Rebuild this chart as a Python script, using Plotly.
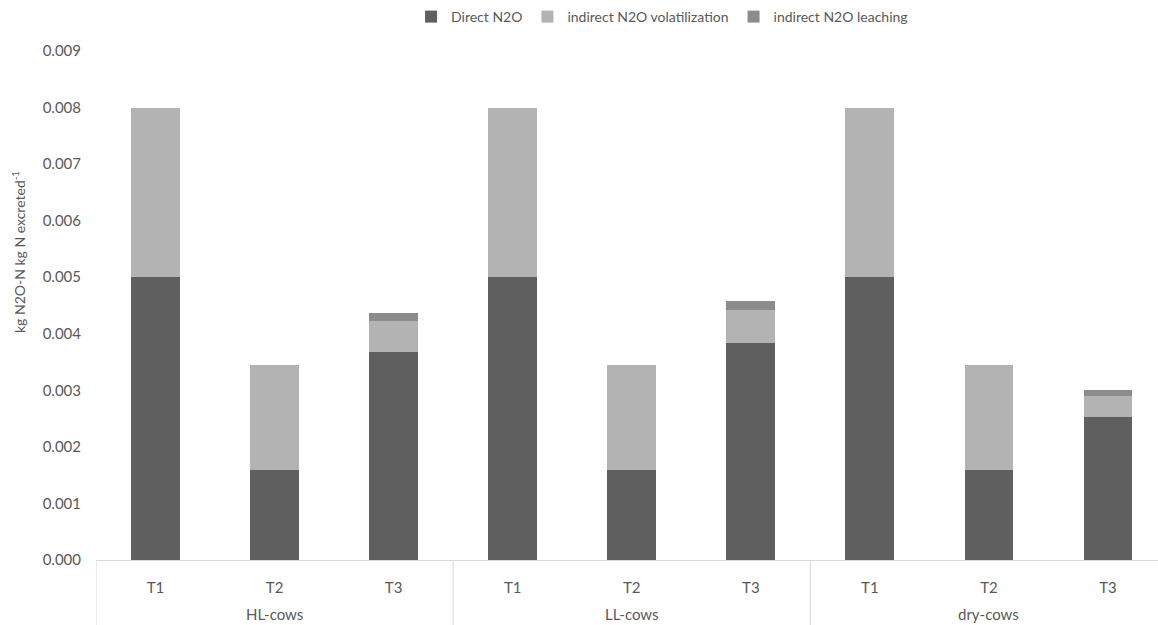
import plotly.graph_objects as go

# Housing groups and treatments
groups = ["HL-cows"] * 3 + ["LL-cows"] * 3 + ["dry-cows"] * 3
treatments = ["T1", "T2", "T3"] * 3

# kg N2O-N per kg N excreted, by emission pathway
direct_n2o = [0.0050, 0.0016, 0.00367, 0.0050, 0.0016, 0.00384, 0.0050, 0.0016, 0.00253]
indirect_volatilization = [0.0030, 0.00185, 0.00055, 0.0030, 0.00185, 0.00058, 0.0030, 0.00185, 0.00037]
indirect_leaching = [0.0, 0.0, 0.00015, 0.0, 0.0, 0.00016, 0.0, 0.0, 0.00011]

y_ticks = [0.000, 0.001, 0.002, 0.003, 0.004, 0.005, 0.006, 0.007, 0.008, 0.009]

font_family = "Lato, 'Open Sans', sans-serif"
text_color = "#595959"
rule_color = "#d9d9d9"

positions = list(range(len(treatments)))

fig = go.Figure()
series = [
    ("Direct N2O", direct_n2o, "#5f5f5f"),
    ("indirect N2O volatilization", indirect_volatilization, "#b3b3b3"),
    ("indirect N2O leaching", indirect_leaching, "#8c8c8c"),
]
for name, values, color in series:
    fig.add_trace(go.Bar(
        x=positions,
        y=values,
        name=name,
        marker=dict(color=color, line=dict(width=0)),
    ))

# Group labels beneath the treatment labels, and dividers between groups
group_names = list(dict.fromkeys(groups))
for g in group_names:
    idx = [i for i, name in enumerate(groups) if name == g]
    center = (idx[0] + idx[-1]) / 2
    fig.add_annotation(
        x=center, xref="x", y=0, yref="paper",
        yanchor="middle", yshift=-54,
        text=g, showarrow=False,
        font=dict(size=15, color=text_color),
    )
    fig.add_shape(
        type="line", xref="x", yref="paper",
        x0=idx[0] - 0.5, x1=idx[0] - 0.5, y0=0, y1=-65 / 509,
        line=dict(color=rule_color, width=1),
    )

# Rotated y-axis title, placed in the left margin
fig.add_annotation(
    x=(19 - 96) / 1062, xref="paper",
    y=(560 - 252) / 509, yref="paper",
    xanchor="center", yanchor="middle",
    text="kg N2O-N kg N excreted<sup>-1</sup>",
    textangle=-90, showarrow=False,
    font=dict(size=14, color=text_color),
)

fig.update_layout(
    barmode="stack",
    bargap=0.59,
    width=1158,
    height=625,
    margin=dict(l=96, r=0, t=51, b=65),
    paper_bgcolor="white",
    plot_bgcolor="white",
    font=dict(family=font_family, size=15, color=text_color),
    showlegend=True,
    legend=dict(
        orientation="h",
        x=0.533, xanchor="center",
        y=1 - 17 / 625, yanchor="middle",
        yref="container",
        font=dict(size=14, color=text_color),
        traceorder="normal",
    ),
    xaxis=dict(
        range=[-0.5, 8.42],
        tickvals=positions,
        ticktext=treatments,
        showline=True,
        linecolor=rule_color,
        linewidth=1,
        showgrid=False,
        zeroline=False,
        ticks="",
        ticklabelstandoff=14,
        tickfont=dict(size=15, color=text_color),
    ),
    yaxis=dict(
        range=[0, 0.009],
        tickvals=y_ticks,
        tickformat=".3f",
        showgrid=False,
        zeroline=False,
        showline=False,
        ticks="",
        ticklabelstandoff=14,
        tickfont=dict(size=15, color=text_color),
    ),
)

fig.write_html("out.html")
